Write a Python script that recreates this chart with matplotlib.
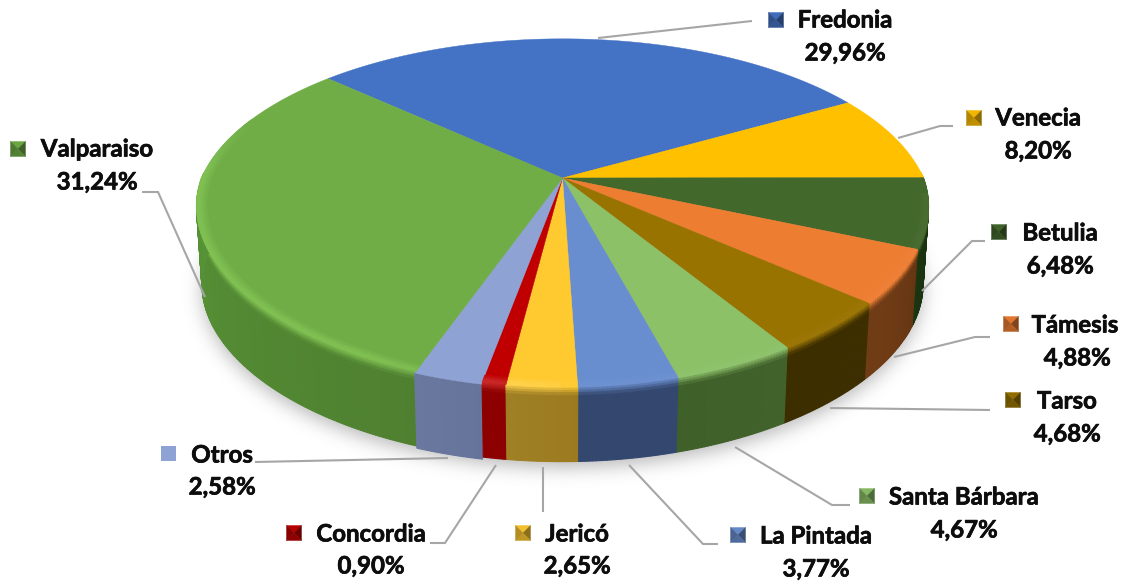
import numpy as np
import matplotlib
matplotlib.use("Agg")
import matplotlib.pyplot as plt
import matplotlib.patheffects as pe
from matplotlib.path import Path
from matplotlib.colors import to_rgb

# ---- data ----
categories = ["Fredonia", "Venecia", "Betulia", "Támesis", "Tarso", "Santa Bárbara",
              "La Pintada", "Jericó", "Concordia", "Otros", "Valparaiso"]
values = [29.96, 8.20, 6.48, 4.88, 4.68, 4.67, 3.77, 2.65, 0.90, 2.58, 31.24]
pct_labels = ["29,96%", "8,20%", "6,48%", "4,88%", "4,68%", "4,67%",
              "3,77%", "2,65%", "0,90%", "2,58%", "31,24%"]

# ---- style ----
top_colors = ["#4472C4", "#FFC000", "#43682B", "#ED7D31", "#997300", "#8CC168",
              "#698ED0", "#FFCA30", "#C00000", "#8FA2D4", "#70AD47"]
side_colors = ["#2c4a80", "#8a6800", "#1d3a12", "#6e3a14", "#3d2e00", "#42622c",
               "#33476f", "#9c7b20", "#8c0000", "#66749c", "#4f8030"]
side_colors_end = ["#2c4a80", "#8a6800", "#1d3a12", "#703c16", "#3d2e00", "#40602a",
                   "#34486f", "#a08024", "#8c0000", "#6a789f", "#5b9e3a"]

# ---- layout (pixels) ----
W, H = 1130, 581
CX, CY, A, B, K = 562.5, 178.0, 361.0, 167.0, 0.20
KX_BACK, KX_FRONT = 0.20, 0.165
DEPTH, BOT_SCALE = 78.0, 0.985
START = -47.5
OTROS_SCALE = 1.008
BAND_BRIGHT, BAND_BLEND = 0.02, 0.12

marker_xy = [(776, 20), (974, 118), (999, 232), (1011, 324), (1013, 400), (867, 496),
             (738, 535), (523, 533), (294, 533), (168, 453), (18, 149)]
name_xy = [(845, 20), (1038, 118), (1060, 233), (1075, 325), (1067, 401), (964, 497),
           (816, 536), (577, 534), (371, 534), (222, 455), (97, 149)]
pct_xy = [(845, 53), (1038, 151), (1060, 266), (1077, 358), (1067, 434), (964, 530),
          (816, 569), (577, 566), (371, 566), (222, 487), (97, 182)]
leaders = [[(598, 38), (752, 21)],
           [(898, 138), (940, 126), (953, 126)],
           [(922, 291), (972, 241), (985, 241)],
           [(894, 357), (975, 337), (990, 337)],
           [(830, 408), (990, 410)],
           [(735, 447), (832, 505), (850, 505)],
           [(629, 465), (703, 544), (718, 544)],
           [(543, 467), (543, 512)],
           [(496, 465), (445, 543), (430, 543)],
           [(448, 458), (255, 462)],
           [(205, 297), (158, 192), (142, 192)]]

plt.rcParams["font.family"] = ["Lato", "DejaVu Sans"]
fig = plt.figure(figsize=(W / 100, H / 100), dpi=100, facecolor="white")
ax = fig.add_axes([0, 0, 1, 1])
ax.set_xlim(0, W)
ax.set_ylim(H, 0)
ax.axis("off")


def project(theta_deg, r=1.0, depth=0.0):
    """depth runs from 0 (top rim) to 1 (bottom rim)."""
    t = np.radians(theta_deg)
    s = 1.0 + (BOT_SCALE - 1.0) * depth
    u, v = r * np.sin(t), -r * np.cos(t)
    den_x = 1 - np.where(v < 0, KX_BACK, KX_FRONT) * v
    x = CX + s * A * u / den_x
    y = CY + s * B * v / (1 - K * v) + DEPTH * depth
    return x, y


def mix(c1, c2, f):
    a, b = np.array(to_rgb(c1)), np.array(to_rgb(c2))
    return tuple(a + (b - a) * f)


# ---- angles from values ----
vals = np.array(values)
edges = START + np.concatenate([[0], np.cumsum(vals)]) / vals.sum() * 360.0

# ---- soft shadow ----
th = np.linspace(0, 360, 361)
sx, sy = project(th, 1.0, 1.0)
mask_path = Path(np.column_stack([sx, sy + 6]))
gx, gy = np.meshgrid(np.arange(W), np.arange(H))
mask = mask_path.contains_points(np.column_stack([gx.ravel() + .5, gy.ravel() + .5])).reshape(H, W).astype(float)
kern = np.exp(-0.5 * (np.arange(-30, 31) / 9.0) ** 2)
kern /= kern.sum()
blur = np.apply_along_axis(lambda m: np.convolve(m, kern, mode="same"), 0, mask)
blur = np.apply_along_axis(lambda m: np.convolve(m, kern, mode="same"), 1, blur)
rgba = np.zeros((H, W, 4))
rgba[..., :3] = 0.35
rgba[..., 3] = blur * 0.42
ax.imshow(rgba, extent=(0, W, H, 0), zorder=1, interpolation="bilinear", aspect="auto")
ax.set_xlim(0, W)
ax.set_ylim(H, 0)


def highlight(mid, name):
    """Colour and strength of the bright rim for an angle (deg clockwise from top)."""
    if mid >= 180:
        amt = 0.30 * min(1, (mid - 180) / 40 + 0.3) * min(1, max(0, 292 - mid) / 20)
        return ("#a8f070" if name == "Valparaiso" else "#ffffff"), amt
    return "#ffffff", 0.03


# ---- side wall ----
levels = np.array([0, BAND_BRIGHT, 0.05, 0.08, BAND_BLEND, 1.0])
for i, name in enumerate(categories):
    a0, a1 = edges[i], edges[i + 1]
    n = max(3, int((a1 - a0) / 0.5))
    grid = np.linspace(a0, a1, n + 1)
    rs = OTROS_SCALE if name == "Otros" else 1.0
    for j in range(n):
        t0, t1 = grid[j], grid[j + 1]
        mid = 0.5 * (t0 + t1) % 360
        if not (88 <= mid <= 272):
            continue
        col = mix(side_colors[i], side_colors_end[i], (j + 0.5) / n)
        if mid < 125:
            col = mix(col, "#000000", 0.25 * (125 - mid) / 37)
        tint, amt = highlight(mid, name)
        lip = mix(top_colors[i], tint, amt)
        z = 2 + i * 0.01 if mid < 180 else 2.2 - i * 0.01
        for d0, d1 in zip(levels[:-1], levels[1:]):
            if name == "Otros":
                c = col
            elif d1 <= BAND_BRIGHT:
                c = lip
            else:
                c = mix(lip, col, min(1.0, (d0 + d1) / 2 / BAND_BLEND))
            x0, y0 = project(t0, rs, d0)
            x1, y1 = project(t1, rs, d0)
            x2, y2 = project(t1, rs, d1)
            x3, y3 = project(t0, rs, d1)
            ax.fill([x0, x1, x2, x3], [y0, y1, y2, y3], color=c, lw=0.8, zorder=z)

# ---- top faces ----
for i, name in enumerate(categories):
    a0, a1 = edges[i], edges[i + 1]
    grid = np.linspace(a0, a1, max(4, int((a1 - a0) / 0.5)) + 1)
    rs = OTROS_SCALE if name == "Otros" else 1.0
    x, y = project(grid, rs)
    ax.fill(np.r_[CX, x], np.r_[CY, y], color=top_colors[i], lw=0.3, zorder=3)

# ---- bright rim fading into the top face ----
radii = np.array([0.972, 0.978, 0.984, 0.990, 0.995, 1.0])
weights = [0.25, 0.5, 0.75, 0.95, 1.0]
for i, name in enumerate(categories):
    if name == "Otros":
        continue
    a0, a1 = edges[i], edges[i + 1]
    n = max(3, int((a1 - a0) / 0.75))
    grid = np.linspace(a0, a1, n + 1)
    for j in range(n):
        t0, t1 = grid[j], grid[j + 1]
        mid = 0.5 * (t0 + t1) % 360
        if not (95 <= mid <= 292):
            continue
        tint, amt = highlight(mid, name)
        for r0, r1, w in zip(radii[:-1], radii[1:], weights):
            xa, ya = project(t0, r0)
            xb, yb = project(t1, r0)
            xc, yc = project(t1, r1)
            xd, yd = project(t0, r1)
            ax.fill([xa, xb, xc, xd], [ya, yb, yc, yd], color=mix(top_colors[i], tint, amt * w),
                    lw=0.4, zorder=3.5)

# ---- leader lines ----
for pts in leaders:
    ax.plot(*zip(*pts), color="#A6A6A6", lw=1.5, solid_capstyle="butt", solid_joinstyle="miter", zorder=4)

# ---- labels and bevelled legend keys ----
HALF = 7.5
stroke = [pe.withStroke(linewidth=0.5, foreground="#0d0d0d")]
for i, cat in enumerate(categories):
    mx, my = marker_xy[i]
    c = top_colors[i]
    if cat == "Otros":
        ax.fill([mx - HALF, mx + HALF, mx + HALF, mx - HALF],
                [my - HALF, my - HALF, my + HALF, my + HALF], color=c, lw=0, zorder=5)
    else:
        corners = [(mx - HALF, my - HALF), (mx + HALF, my - HALF), (mx + HALF, my + HALF), (mx - HALF, my + HALF)]
        shades = [mix(c, "#000000", 0.05), mix(c, "#000000", 0.45),
                  mix(c, "#000000", 0.25), mix(c, "#000000", 0.3)]
        for k in range(4):
            p, q = corners[k], corners[(k + 1) % 4]
            ax.fill([p[0], q[0], mx], [p[1], q[1], my], color=shades[k], lw=0.3, zorder=5)
    for xy, s in ((name_xy[i], cat), (pct_xy[i], pct_labels[i])):
        ax.text(*xy, s, ha="center", va="center", fontsize=17.3, fontweight="bold",
                color="#0d0d0d", zorder=6, path_effects=stroke)

fig.savefig("out.png", dpi=100, facecolor="white")
